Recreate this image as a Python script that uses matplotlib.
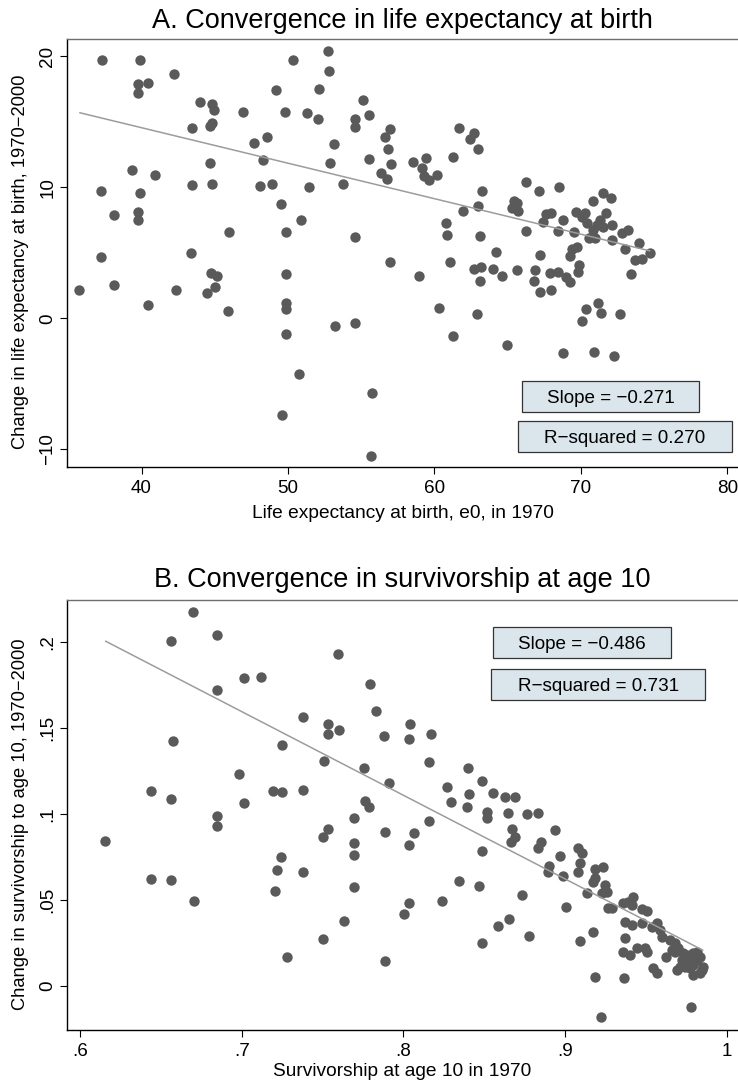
import matplotlib
matplotlib.use("Agg")
import matplotlib.pyplot as plt
from matplotlib.patches import Rectangle
import numpy as np

plt.rcParams["font.family"] = ["Liberation Sans", "DejaVu Sans"]

# ---------------- Panel A: life expectancy at birth ----------------
e0_1970 = [
    37.28, 39.90, 50.32, 42.20, 39.74, 40.46, 39.74, 49.16, 44.00, 44.79,
    44.97, 46.93, 49.80, 43.43, 44.79, 44.68, 48.59, 47.68, 48.29, 44.68,
    39.37, 40.94, 37.26, 39.90, 43.43, 44.81, 48.09, 48.91, 49.54, 38.14,
    39.74, 39.74, 45.95, 49.88, 43.40, 37.26, 35.75, 38.14, 42.35, 44.72,
    45.13, 45.02, 44.49, 40.44, 45.88, 49.88, 49.84, 49.84, 49.88, 49.57,
    52.71, 52.82, 52.14, 51.28, 52.03, 55.12, 55.53, 54.57, 54.57, 53.16,
    52.87, 51.41, 53.78, 50.87, 54.57, 55.53, 56.62, 56.96, 56.80, 57.00,
    56.33, 56.78, 58.51, 59.40, 59.13, 59.28, 59.62, 60.15, 61.67, 62.42,
    62.72, 62.99, 61.26, 63.26, 61.92, 62.99, 60.79, 60.88, 63.11, 64.20,
    56.96, 58.94, 61.06, 62.70, 63.15, 63.11, 63.99, 64.61, 60.31, 62.88,
    61.26, 53.21, 54.59, 50.75, 55.71, 55.67,
    67.13, 68.52, 66.23, 65.45, 65.65, 65.27, 65.68, 70.84, 67.61, 67.95,
    67.39, 68.77, 69.64, 70.27, 70.39, 66.25, 68.45, 69.52, 70.55, 67.20,
    69.38, 69.25, 69.70, 65.65, 66.86, 66.77, 67.88, 68.41, 68.98, 69.27,
    69.84, 69.82, 67.22, 67.97, 64.97, 70.34, 70.09,
    71.48, 72.03, 71.69, 71.30, 71.07, 71.52, 70.84, 72.14, 73.19, 72.82,
    70.96, 72.14, 73.94, 73.00, 74.73, 73.69, 74.18, 73.41, 71.18, 71.34,
    72.66, 70.87, 68.75, 72.25, 70.10,
]
e0_change = [
    19.70, 19.70, 19.70, 18.65, 17.88, 17.94, 17.20, 17.43, 16.54, 16.36,
    15.87, 15.77, 15.75, 14.55, 14.93, 14.70, 13.82, 13.38, 12.11, 11.83,
    11.35, 10.94, 9.69, 9.54, 10.15, 10.23, 10.10, 10.27, 8.70, 7.86,
    8.14, 7.53, 6.59, 6.56, 5.01, 4.66, 2.19, 2.54, 2.19, 3.43,
    3.23, 2.36, 1.90, 0.99, 0.58, 3.38, 1.19, 0.69, -1.22, -7.36,
    20.40, 18.90, 17.48, 15.65, 15.24, 16.64, 15.54, 15.19, 14.63, 13.30,
    11.83, 10.02, 10.23, 7.48, 6.23, 12.14, 13.86, 14.47, 12.92, 11.80,
    11.11, 10.61, 11.95, 12.24, 11.45, 10.86, 10.56, 10.94, 14.50, 13.66,
    14.12, 12.90, 12.34, 9.72, 8.19, 8.60, 7.25, 6.38, 6.31, 5.04,
    4.32, 3.25, 4.27, 3.76, 3.94, 2.87, 3.76, 3.23, 0.81, 0.35,
    -1.37, -0.59, -0.38, -4.25, -5.73, -10.49,
    9.72, 10.02, 10.43, 8.98, 8.78, 8.40, 8.21, 8.98, 7.96, 8.01,
    7.37, 7.50, 8.09, 8.01, 7.30, 6.69, 6.66, 6.59, 6.10, 4.86,
    5.31, 4.76, 5.47, 3.71, 3.71, 2.87, 3.48, 3.51, 3.18, 2.77,
    4.07, 3.51, 2.03, 2.14, -2.01, 0.69, -0.21,
    9.54, 9.16, 8.01, 7.50, 7.12, 6.99, 6.74, 7.12, 6.74, 6.49,
    6.10, 5.98, 5.77, 5.29, 5.01, 4.45, 4.53, 3.40, 1.19, 0.43,
    0.31, -2.55, -2.62, -2.88, 7.70,
]
slope_a, intercept_a, r2_a = -0.271, 25.39, 0.270

# ---------------- Panel B: survivorship to age 10 ----------------
surv10_1970 = [
    .6701, .6563, .6845, .7014, .7117, .6845, .6577, .7247, .6981, .6437,
    .6563, .7014, .7196, .7247, .6845, .6845, .6155, .7241, .7216, .7206,
    .6437, .6563, .6703, .7278,
    .7597, .7793, .7829, .7377, .7536, .7536, .7604, .7878, .8043, .8037,
    .8169, .7511, .7756, .7909, .8160, .7377, .7764, .7787, .7694, .7536,
    .7505, .7694, .7694, .7886, .8067, .8033, .8160, .8268, .8296, .8401,
    .8404, .8391, .8484, .8554, .8515, .8515, .8484, .7377, .7694, .8342,
    .8466, .8241, .8035, .8004, .7631, .7505, .7886, .8484,
    .8628, .8690, .8649, .8763, .8834, .8670, .8690, .8663, .8938, .8851,
    .8834, .8968, .9082, .9103, .8902, .8896, .8985, .9092, .9082, .9185,
    .9232, .9185, .9175, .9247, .9257, .9226, .9134, .8732, .9006, .9267,
    .9288, .9360, .9391, .9422, .9412, .9474, .9504, .9370, .9412, .9477,
    .9536, .9567, .9587, .9597, .9372, .9360, .9401, .9443, .9494, .9504,
    .9545, .9567, .9185, .9364, .9222, .9777, .9092, .9175, .8777, .8655,
    .8587,
    .9649, .9680, .9700, .9680, .9731, .9752, .9721, .9773, .9793, .9814,
    .9773, .9793, .9741, .9690, .9814, .9834, .9855, .9845, .9834, .9624,
    .9659, .9793, .9711, .9752,
]
surv10_change = [
    .2170, .2005, .2038, .1790, .1793, .1719, .1425, .1400, .1229, .1131,
    .1084, .1065, .1132, .1125, .0987, .0929, .0844, .0747, .0674, .0552,
    .0620, .0616, .0495, .0170,
    .1926, .1756, .1599, .1564, .1520, .1463, .1487, .1454, .1523, .1434,
    .1463, .1307, .1264, .1181, .1299, .1136, .1074, .1038, .0977, .0912,
    .0867, .0830, .0761, .0896, .0890, .0819, .0958, .1157, .1070, .1264,
    .1115, .1039, .1192, .1123, .1012, .0974, .0786, .0664, .0573, .0608,
    .0579, .0495, .0484, .0420, .0377, .0273, .0147, .0250,
    .1096, .1096, .1003, .0999, .1006, .0910, .0867, .0834, .0906, .0838,
    .0800, .0757, .0803, .0771, .0697, .0664, .0641, .0713, .0664, .0678,
    .0689, .0625, .0606, .0587, .0548, .0538, .0538, .0530, .0461, .0451,
    .0451, .0484, .0490, .0519, .0470, .0445, .0437, .0373, .0354, .0364,
    .0344, .0364, .0325, .0286, .0277, .0199, .0180, .0219, .0219, .0199,
    .0103, .0074, .0054, .0045, -.0178, -.0120, .0263, .0315, .0290, .0387,
    .0348,
    .0267, .0248, .0219, .0199, .0190, .0180, .0151, .0161, .0122, .0151,
    .0103, .0064, .0112, .0093, .0199, .0170, .0112, .0093, .0074, .0170,
    .0209, .0190, .0112, .0132,
]
slope_b, intercept_b, r2_b = -0.486, 0.4996, 0.731

a_xticks = [40, 50, 60, 70, 80]
a_xticklabels = ["40", "50", "60", "70", "80"]
a_yticks = [-10, 0, 10, 20]
a_yticklabels = ["\u221210", "0", "10", "20"]
b_xticks = [.6, .7, .8, .9, 1.0]
b_xticklabels = [".6", ".7", ".8", ".9", "1"]
b_yticks = [0, .05, .1, .15, .2]
b_yticklabels = ["0", ".05", ".1", ".15", ".2"]

W, H = 738, 1083
DOT = "#5a5a5a"
FIT = "#9c9c9c"
BOXFILL = "#dae6ec"
TICK_FS = 13.6
LAB_FS = 13.8
YLAB_FS = 13.2
TITLE_FS = 19.5

fig = plt.figure(figsize=(W / 100, H / 100), dpi=100)


def axes_px(left, top, right, bottom):
    return fig.add_axes([left / W, 1 - bottom / H, (right - left) / W, (bottom - top) / H])


def fx(px):
    return px / W


def fy(py):
    return 1 - py / H


def minus(s):
    return s.replace("-", "\u2212")


def style(ax, xt, xtl, yt, ytl):
    ax.spines["right"].set_visible(False)
    ax.spines["top"].set_color("#6e6e6e")
    ax.spines["top"].set_linewidth(1.0)
    for s in ("left", "bottom"):
        ax.spines[s].set_color("black")
        ax.spines[s].set_linewidth(1.0)
    ax.set_xticks(xt)
    ax.set_xticklabels(xtl)
    ax.set_yticks(yt)
    ax.set_yticklabels(ytl, rotation=90, va="center")
    ax.tick_params(direction="out", length=5, width=0.8, labelsize=TICK_FS,
                   colors="black")
    ax.tick_params(axis="x", pad=4.5)
    ax.tick_params(axis="y", pad=3)


def scatter_fit(ax, x, y, slope, intercept):
    x = np.asarray(x)
    y = np.asarray(y)
    ax.scatter(x, y, s=56, color=DOT, linewidths=0, zorder=3)
    xs = np.array([x.min(), x.max()])
    ax.plot(xs, intercept + slope * xs, color=FIT, lw=1.1, zorder=4,
            solid_capstyle="butt")


def stat_box(ax, left, top, right, bottom, text):
    ax.add_patch(Rectangle((fx(left), fy(bottom)), (right - left) / W, (bottom - top) / H,
                           transform=fig.transFigure, facecolor=BOXFILL,
                           edgecolor="#333333", lw=0.9, zorder=5, clip_on=False))
    ax.text(fx((left + right) / 2), fy((top + bottom) / 2), text,
            transform=fig.transFigure, ha="center", va="center_baseline",
            fontsize=TICK_FS, zorder=6)


# ---- Panel A ----
axA = axes_px(67.3, 39.3, 738, 467.3)
scatter_fit(axA, e0_1970, e0_change, slope_a, intercept_a)
axA.set_xlim(34.935, 80.717)
axA.set_ylim(-11.374, 21.298)
style(axA, a_xticks, a_xticklabels, a_yticks, a_yticklabels)
stat_box(axA, 521.7, 381.0, 699.3, 411.7, minus(f"Slope = {slope_a:.3f}"))
stat_box(axA, 517.7, 420.7, 732.3, 451.7, minus(f"R-squared = {r2_a:.3f}"))

fig.text(fx(402.6), fy(28), "A. Convergence in life expectancy at birth",
         ha="center", va="baseline", fontsize=TITLE_FS)
fig.text(fx(402.6), fy(518), "Life expectancy at birth, e0, in 1970",
         ha="center", va="baseline", fontsize=LAB_FS)
fig.text(fx(21), fy(262), "Change in life expectancy at birth, 1970\u22122000",
         ha="center", va="center", rotation=90, fontsize=YLAB_FS)

# ---- Panel B ----
axB = axes_px(67.3, 600, 738, 1029.5)
scatter_fit(axB, surv10_1970, surv10_change, slope_b, intercept_b)
axB.set_xlim(0.59215, 1.00693)
axB.set_ylim(-0.02526, 0.22422)
style(axB, b_xticks, b_xticklabels, b_yticks, b_yticklabels)
stat_box(axB, 492.7, 626.7, 671.0, 657.7, minus(f"Slope = {slope_b:.3f}"))
stat_box(axB, 491.0, 669.3, 705.3, 700.0, minus(f"R-squared = {r2_b:.3f}"))

fig.text(fx(402.6), fy(587), "B. Convergence in survivorship at age 10",
         ha="center", va="baseline", fontsize=TITLE_FS)
fig.text(fx(402.6), fy(1076), "Survivorship at age 10 in 1970",
         ha="center", va="baseline", fontsize=LAB_FS)
fig.text(fx(21), fy(824), "Change in survivorship to age 10, 1970\u22122000",
         ha="center", va="center", rotation=90, fontsize=YLAB_FS)

fig.savefig("out.png", dpi=100, facecolor="white")
